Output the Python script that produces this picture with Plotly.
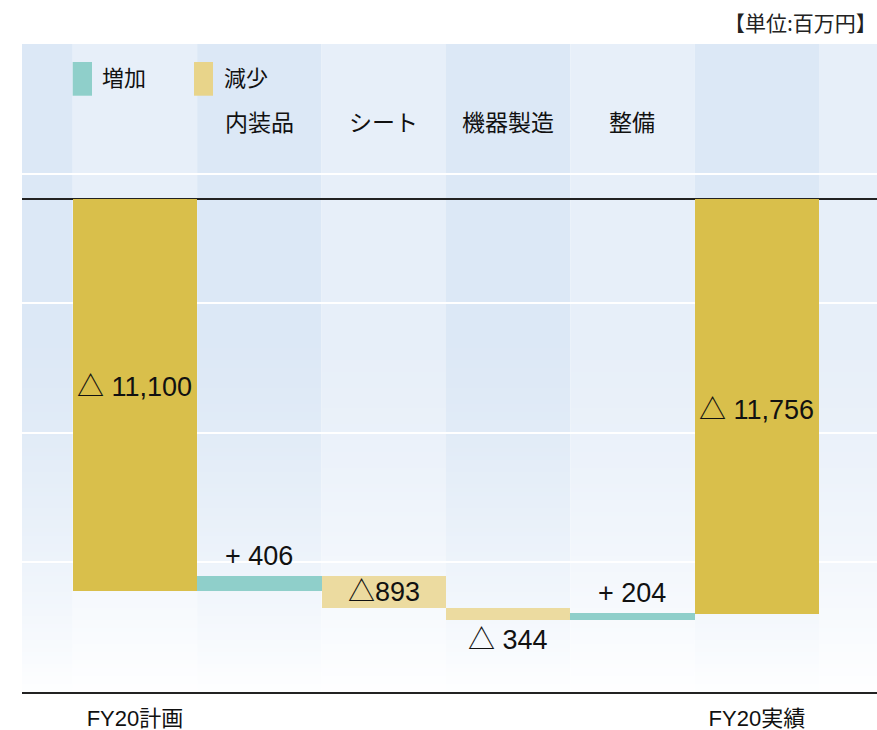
import plotly.graph_objects as go

# ---- data ----
categories = ["FY20計画", "内装品", "シート", "機器製造", "整備", "FY20実績"]
values = [-11100, 406, -893, -344, 204, -11756]
measures = ["total", "relative", "relative", "relative", "relative", "total"]
labels = ["△ 11,100", "+ 406", "△893", "△ 344", "+ 204", "△ 11,756"]
label_pos = ["inside", "above", "inside", "below", "above", "inside"]
label_shift = [8, 3, 0, -3, 3, -4]
legend_items = ["増加", "減少"]
unit_text = "【単位:百万円】"

C_TOTAL = "#d9bf4b"
C_UP = "#8fcfca"
C_DOWN = "#ecdba0"
STRIPE_DARK = "#dce8f6"
STRIPE_LIGHT = "#e7eff9"
FONT = "Liberation Sans, Noto Sans CJK JP, sans-serif"
JFONT = "Noto Sans CJK JP, sans-serif"

# bases via running total
bases, heights, colors = [], [], []
run = 0
for v, m in zip(values, measures):
    if m == "total":
        bases.append(0)
        heights.append(v)
        run = v
        colors.append(C_TOTAL)
    else:
        bases.append(run)
        heights.append(v)
        run += v
        colors.append(C_UP if v > 0 else C_DOWN)

xs = list(range(len(categories)))
fig = go.Figure()
fig.add_trace(go.Bar(x=xs, y=heights, base=bases, marker=dict(color=colors, line=dict(width=0)),
                     width=1.0, hoverinfo="skip", showlegend=False))

y_lo, y_hi = -13967, 4391
x_lo, x_hi = -0.908, 5.966
PLOT_H = 730 - 44 - 38  # plot area height in px

shapes = []
# stripes
for i in range(-1, 7):
    shapes.append(dict(type="rect", xref="x", yref="paper", x0=i - 0.5, x1=i + 0.5, y0=0, y1=1,
                       fillcolor=STRIPE_DARK if i % 2 else STRIPE_LIGHT, line=dict(width=0), layer="below"))
# white fade at bottom, bands aligned on whole pixels
band = 4
nb = int(0.6 * PLOT_H / band)
for k in range(nb):
    f0 = k * band / PLOT_H
    f1 = (k + 1) * band / PLOT_H
    fm = (f0 + f1) / 2
    a = 0.95 * max(0.0, (0.6 - fm) / 0.6) ** 1.6
    shapes.append(dict(type="rect", xref="x", yref="paper", x0=x_lo, x1=x_hi, y0=f0, y1=f1,
                       fillcolor="rgba(255,255,255,%.3f)" % a, line=dict(width=0), layer="below"))
# legend swatches
shapes.append(dict(type="rect", xref="paper", yref="paper", x0=0.0593, x1=0.0819, y0=0.9202, y1=0.9722,
                   fillcolor=C_UP, line=dict(width=0), layer="above"))
shapes.append(dict(type="rect", xref="paper", yref="paper", x0=0.2012, x1=0.2234, y0=0.9202, y1=0.9722,
                   fillcolor="#e8d48a", line=dict(width=0), layer="above"))

ann = []
for i, (b, h, t, p, s) in enumerate(zip(bases, heights, labels, label_pos, label_shift)):
    top = max(b, b + h)
    bot = min(b, b + h)
    if p == "inside":
        ann.append(dict(x=i, y=b + h / 2, text=t, yanchor="middle", yshift=s))
    elif p == "above":
        ann.append(dict(x=i, y=top, text=t, yanchor="bottom", yshift=s))
    else:
        ann.append(dict(x=i, y=bot, text=t, yanchor="top", yshift=s))
for a in ann:
    a.update(xref="x", yref="y", showarrow=False, font=dict(family=FONT, size=27, color="#111"))

# top category labels
for i in range(1, 5):
    ann.append(dict(x=i, y=0.881, xref="x", yref="paper", text=categories[i], showarrow=False,
                    yanchor="middle", font=dict(family=JFONT, size=23, color="#111")))
# legend text
ann.append(dict(x=0.0912, y=0.9505, xref="paper", yref="paper", text=legend_items[0], showarrow=False,
                xanchor="left", yanchor="middle", font=dict(family=JFONT, size=22, color="#111")))
ann.append(dict(x=0.2339, y=0.9505, xref="paper", yref="paper", text=legend_items[1], showarrow=False,
                xanchor="left", yanchor="middle", font=dict(family=JFONT, size=22, color="#111")))
# unit
ann.append(dict(x=1.0, y=1.0, xref="paper", yref="paper", text=unit_text, showarrow=False,
                xanchor="right", yanchor="middle", yshift=22, xshift=2,
                font=dict(family=JFONT, size=21, color="#222")))

fig.update_layout(
    width=877, height=730,
    margin=dict(l=22, r=0, t=44, b=38),
    paper_bgcolor="white", plot_bgcolor="white",
    bargap=0,
    shapes=shapes, annotations=ann,
    xaxis=dict(range=[x_lo, x_hi], tickvals=[0, 5], ticktext=[categories[0], categories[5]],
               showgrid=False, zeroline=False, showline=True, linecolor="#222", linewidth=1.5,
               ticks="", ticklabelstandoff=6, tickfont=dict(family=FONT, size=22, color="#111")),
    yaxis=dict(range=[y_lo, y_hi], tick0=y_lo, dtick=(y_hi - y_lo) / 5, showticklabels=False,
               showgrid=True, gridcolor="white", gridwidth=1.5,
               zeroline=True, zerolinecolor="#222", zerolinewidth=1.5),
)
fig.write_html("out.html", config={"displayModeBar": False},
               post_script="document.body.style.margin='0';document.body.style.overflow='hidden';")
